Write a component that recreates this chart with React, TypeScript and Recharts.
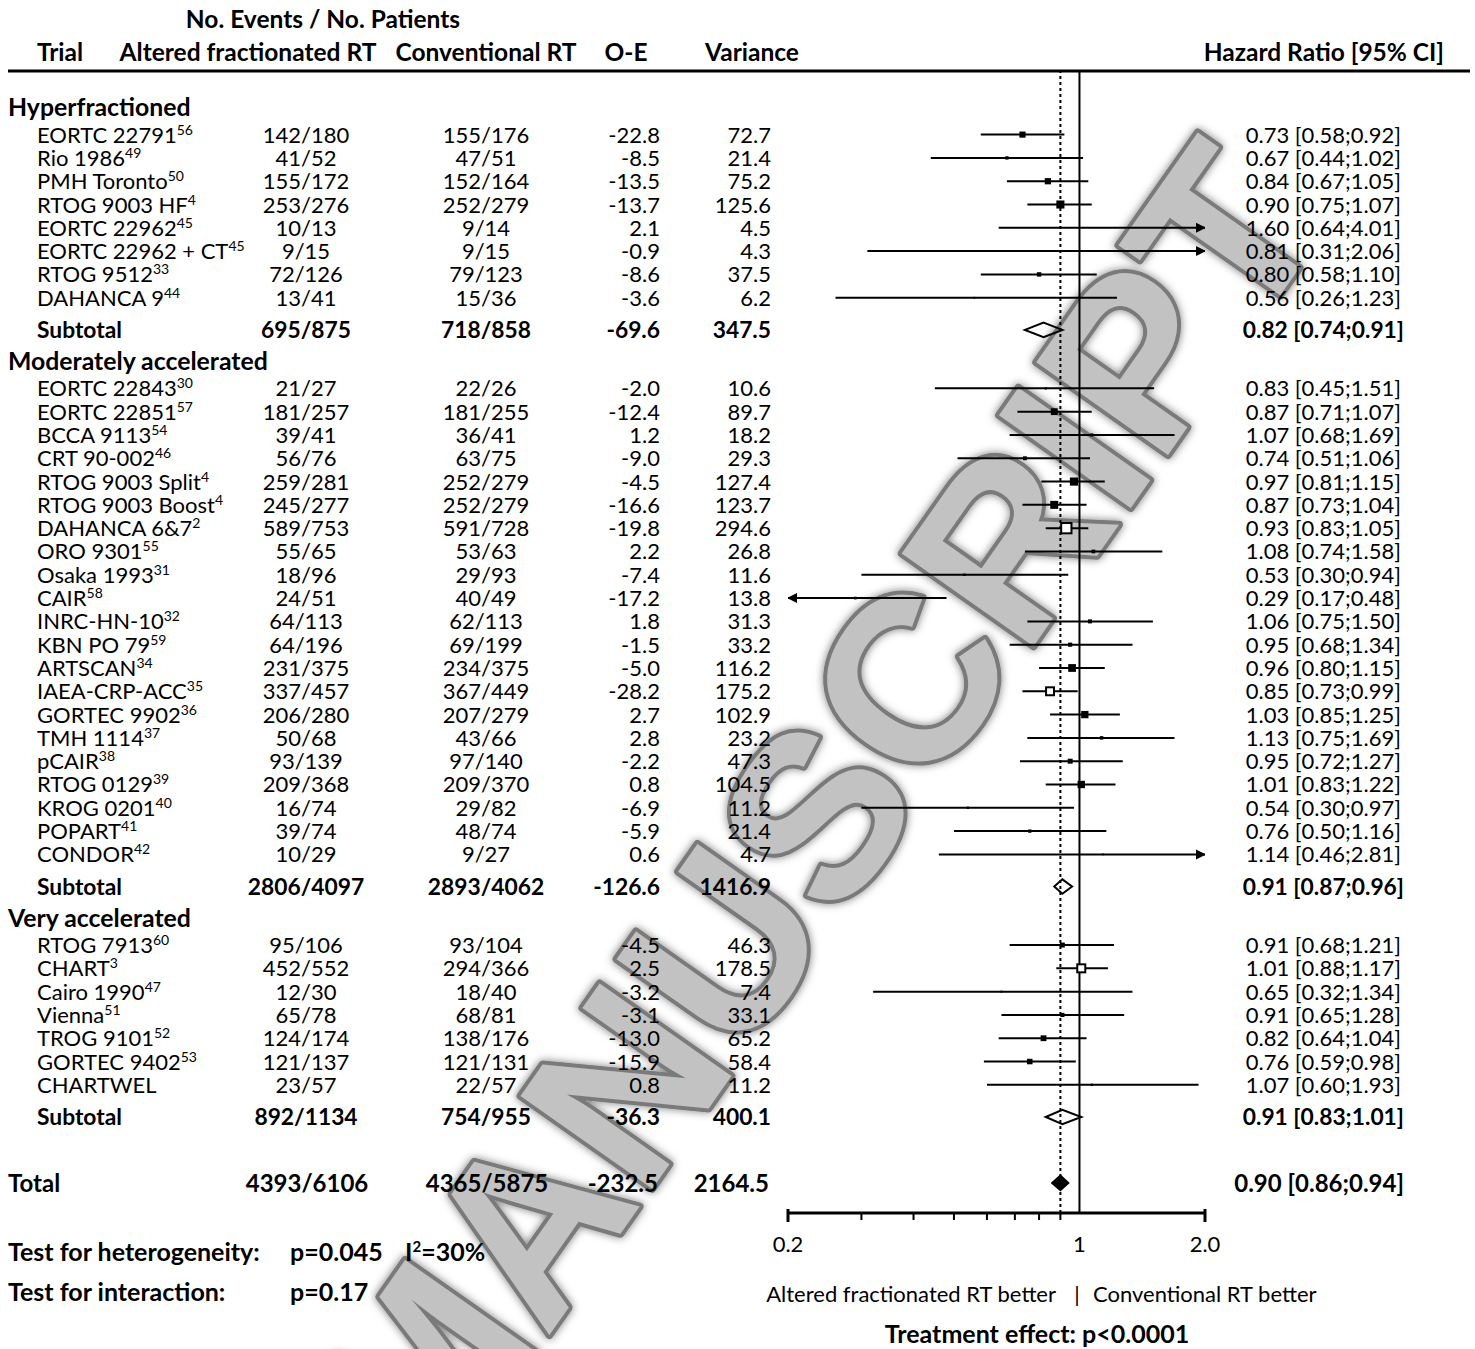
import React from 'react';
import { ScatterChart, Scatter, XAxis, YAxis, ReferenceLine, ErrorBar } from 'recharts';

const FONT = 'Lato, "Open Sans", sans-serif';

// ---- data ----
const sectionNames = ['Hyperfractioned', 'Moderately accelerated', 'Very accelerated'];
const sectionSizes = [8, 21, 7];

const trialNames = [
  'EORTC 22791', 'Rio 1986', 'PMH Toronto', 'RTOG 9003 HF', 'EORTC 22962', 'EORTC 22962 + CT', 'RTOG 9512', 'DAHANCA 9',
  'EORTC 22843', 'EORTC 22851', 'BCCA 9113', 'CRT 90-002', 'RTOG 9003 Split', 'RTOG 9003 Boost', 'DAHANCA 6&7',
  'ORO 9301', 'Osaka 1993', 'CAIR', 'INRC-HN-10', 'KBN PO 79', 'ARTSCAN', 'IAEA-CRP-ACC', 'GORTEC 9902', 'TMH 1114',
  'pCAIR', 'RTOG 0129', 'KROG 0201', 'POPART', 'CONDOR',
  'RTOG 7913', 'CHART', 'Cairo 1990', 'Vienna', 'TROG 9101', 'GORTEC 9402', 'CHARTWEL',
];
const trialRefs = [
  '56', '49', '50', '4', '45', '45', '33', '44',
  '30', '57', '54', '46', '4', '4', '2', '55', '31', '58', '32', '59', '34', '35', '36', '37', '38', '39', '40', '41', '42',
  '60', '3', '47', '51', '52', '53', '',
];
const alteredEvents = [
  '142/180', '41/52', '155/172', '253/276', '10/13', '9/15', '72/126', '13/41',
  '21/27', '181/257', '39/41', '56/76', '259/281', '245/277', '589/753', '55/65', '18/96', '24/51', '64/113', '64/196',
  '231/375', '337/457', '206/280', '50/68', '93/139', '209/368', '16/74', '39/74', '10/29',
  '95/106', '452/552', '12/30', '65/78', '124/174', '121/137', '23/57',
];
const conventionalEvents = [
  '155/176', '47/51', '152/164', '252/279', '9/14', '9/15', '79/123', '15/36',
  '22/26', '181/255', '36/41', '63/75', '252/279', '252/279', '591/728', '53/63', '29/93', '40/49', '62/113', '69/199',
  '234/375', '367/449', '207/279', '43/66', '97/140', '209/370', '29/82', '48/74', '9/27',
  '93/104', '294/366', '18/40', '68/81', '138/176', '121/131', '22/57',
];
const oeValues = [
  -22.8, -8.5, -13.5, -13.7, 2.1, -0.9, -8.6, -3.6,
  -2.0, -12.4, 1.2, -9.0, -4.5, -16.6, -19.8, 2.2, -7.4, -17.2, 1.8, -1.5, -5.0, -28.2, 2.7, 2.8, -2.2, 0.8, -6.9, -5.9, 0.6,
  -4.5, 2.5, -3.2, -3.1, -13.0, -15.9, 0.8,
];
const varianceValues = [
  72.7, 21.4, 75.2, 125.6, 4.5, 4.3, 37.5, 6.2,
  10.6, 89.7, 18.2, 29.3, 127.4, 123.7, 294.6, 26.8, 11.6, 13.8, 31.3, 33.2, 116.2, 175.2, 102.9, 23.2, 47.3, 104.5, 11.2, 21.4, 4.7,
  46.3, 178.5, 7.4, 33.1, 65.2, 58.4, 11.2,
];
const hrValues = [
  0.73, 0.67, 0.84, 0.90, 1.60, 0.81, 0.80, 0.56,
  0.83, 0.87, 1.07, 0.74, 0.97, 0.87, 0.93, 1.08, 0.53, 0.29, 1.06, 0.95, 0.96, 0.85, 1.03, 1.13, 0.95, 1.01, 0.54, 0.76, 1.14,
  0.91, 1.01, 0.65, 0.91, 0.82, 0.76, 1.07,
];
const ciLow = [
  0.58, 0.44, 0.67, 0.75, 0.64, 0.31, 0.58, 0.26,
  0.45, 0.71, 0.68, 0.51, 0.81, 0.73, 0.83, 0.74, 0.30, 0.17, 0.75, 0.68, 0.80, 0.73, 0.85, 0.75, 0.72, 0.83, 0.30, 0.50, 0.46,
  0.68, 0.88, 0.32, 0.65, 0.64, 0.59, 0.60,
];
const ciHigh = [
  0.92, 1.02, 1.05, 1.07, 4.01, 2.06, 1.10, 1.23,
  1.51, 1.07, 1.69, 1.06, 1.15, 1.04, 1.05, 1.58, 0.94, 0.48, 1.50, 1.34, 1.15, 0.99, 1.25, 1.69, 1.27, 1.22, 0.97, 1.16, 2.81,
  1.21, 1.17, 1.34, 1.28, 1.04, 0.98, 1.93,
];

const subtotalAltered = ['695/875', '2806/4097', '892/1134'];
const subtotalConventional = ['718/858', '2893/4062', '754/955'];
const subtotalOE = [-69.6, -126.6, -36.3];
const subtotalVariance = [347.5, 1416.9, 400.1];
const subtotalHR = [0.82, 0.91, 0.91];
const subtotalLow = [0.74, 0.87, 0.83];
const subtotalHigh = [0.91, 0.96, 1.01];

const totalAltered = '4393/6106';
const totalConventional = '4365/5875';
const totalOE = -232.5;
const totalVariance = 2164.5;
const totalHR = 0.90;
const totalLow = 0.86;
const totalHigh = 0.94;

const axisTicks = [0.2, 0.3, 0.4, 0.5, 0.6, 0.7, 0.8, 0.9, 1, 2];
const majorTicks = [0.2, 1, 2];
const majorTickLabels = ['0.2', '1', '2.0'];

const X_MIN = 0.2;
const X_MAX = 2;

// ---- row layout (in row units, top = 0) ----
const HEADER_START = 1.55;
const HEADER_GAP = 1.18;
const SUB_GAP = 1.38;
const SECTION_GAP = 1.33;
const TOTAL_GAP = 2.83;
const Y_MAX = 49.01;

type Row = { kind: string; y: number; i: number };
const rows: Row[] = [];
{
  let y = HEADER_START;
  let t = 0;
  sectionNames.forEach((_, s) => {
    rows.push({ kind: 'section', y, i: s });
    y += HEADER_GAP;
    for (let k = 0; k < sectionSizes[s]; k++) {
      rows.push({ kind: 'trial', y, i: t });
      t++;
      if (k < sectionSizes[s] - 1) y += 1;
    }
    y += SUB_GAP;
    rows.push({ kind: 'subtotal', y, i: s });
    if (s < sectionNames.length - 1) y += SECTION_GAP;
  });
  y += TOTAL_GAP;
  rows.push({ kind: 'total', y, i: 0 });
}

const fmt1 = (v: number) => v.toFixed(1);
const fmtHR = (h: number, l: number, u: number) => `${h.toFixed(2)} [${l.toFixed(2)};${u.toFixed(2)}]`;

const trialPoints = rows
  .filter((r) => r.kind === 'trial')
  .map((r) => {
    const i = r.i;
    const lo = Math.max(ciLow[i], X_MIN);
    const hi = Math.min(ciHigh[i], X_MAX);
    return { x: hrValues[i], y: r.y, v: varianceValues[i], err: [hrValues[i] - lo, hi - hrValues[i]] };
  });

const arrowPoints: { x: number; y: number; dir: string }[] = [];
rows
  .filter((r) => r.kind === 'trial')
  .forEach((r) => {
    if (ciHigh[r.i] > X_MAX) arrowPoints.push({ x: X_MAX, y: r.y, dir: 'right' });
    if (ciLow[r.i] < X_MIN) arrowPoints.push({ x: X_MIN, y: r.y, dir: 'left' });
  });

const DIAMOND_HALF = 0.31;
const diamondData = (y: number, h: number, l: number, u: number) => [
  { x: l, y },
  { x: h, y: y - DIAMOND_HALF },
  { x: u, y },
  { x: h, y: y + DIAMOND_HALF },
];
const diamonds = rows
  .filter((r) => r.kind === 'subtotal' || r.kind === 'total')
  .map((r) =>
    r.kind === 'total'
      ? { filled: true, data: diamondData(r.y, totalHR, totalLow, totalHigh) }
      : { filled: false, data: diamondData(r.y, subtotalHR[r.i], subtotalLow[r.i], subtotalHigh[r.i]) },
  );

// ---- column positions ----
const COL_SECTION = 8;
const COL_TRIAL = 37;
const COL_ALTERED = 306;
const COL_CONV = 486;
const COL_OE = 660;
const COL_VAR = 771;
const COL_HR = 1401;

const txt = (bold: boolean, size = 22) => ({
  fontFamily: FONT,
  fontSize: size,
  fontWeight: bold ? 700 : 400,
  fill: '#000',
});

const RowTick = (props: any) => {
  const { y, payload } = props;
  const row = rows.find((r) => Math.abs(r.y - payload.value) < 1e-6);
  if (!row) return null;
  const b = y + 8;
  if (row.kind === 'section') {
    return (
      <text x={COL_SECTION} y={b + 1} {...txt(true, 24.8)}>
        {sectionNames[row.i]}
      </text>
    );
  }
  if (row.kind === 'trial') {
    const i = row.i;
    return (
      <g>
        <text x={COL_TRIAL} y={b} {...txt(false)}>
          {trialNames[i]}
          {trialRefs[i] && (
            <tspan dy={-8} fontSize={14}>
              {trialRefs[i]}
            </tspan>
          )}
        </text>
        <text x={COL_ALTERED} y={b} textAnchor="middle" {...txt(false)}>{alteredEvents[i]}</text>
        <text x={COL_CONV} y={b} textAnchor="middle" {...txt(false)}>{conventionalEvents[i]}</text>
        <text x={COL_OE} y={b} textAnchor="end" {...txt(false)}>{fmt1(oeValues[i])}</text>
        <text x={COL_VAR} y={b} textAnchor="end" {...txt(false)}>{fmt1(varianceValues[i])}</text>
        <text x={COL_HR} y={b} textAnchor="end" {...txt(false)}>{fmtHR(hrValues[i], ciLow[i], ciHigh[i])}</text>
      </g>
    );
  }
  if (row.kind === 'subtotal') {
    const s = row.i;
    return (
      <g>
        <text x={COL_TRIAL} y={b} {...txt(true, 22.8)}>Subtotal</text>
        <text x={COL_ALTERED} y={b} textAnchor="middle" {...txt(true, 22.8)}>{subtotalAltered[s]}</text>
        <text x={COL_CONV} y={b} textAnchor="middle" {...txt(true, 22.8)}>{subtotalConventional[s]}</text>
        <text x={COL_OE} y={b} textAnchor="end" {...txt(true, 22.8)}>{fmt1(subtotalOE[s])}</text>
        <text x={COL_VAR} y={b} textAnchor="end" {...txt(true, 22.8)}>{fmt1(subtotalVariance[s])}</text>
        <text x={COL_HR + 3} y={b} textAnchor="end" {...txt(true, 22.8)}>{fmtHR(subtotalHR[s], subtotalLow[s], subtotalHigh[s])}</text>
      </g>
    );
  }
  return (
    <g>
      <text x={COL_SECTION} y={b + 1} {...txt(true, 24)}>Total</text>
      <text x={COL_ALTERED + 1} y={b + 1} textAnchor="middle" {...txt(true, 24)}>{totalAltered}</text>
      <text x={COL_CONV + 1} y={b + 1} textAnchor="middle" {...txt(true, 24)}>{totalConventional}</text>
      <text x={COL_OE - 2} y={b + 1} textAnchor="end" {...txt(true, 24)}>{fmt1(totalOE)}</text>
      <text x={COL_VAR - 2} y={b + 1} textAnchor="end" {...txt(true, 24)}>{fmt1(totalVariance)}</text>
      <text x={COL_HR + 3} y={b + 1} textAnchor="end" {...txt(true, 24)}>{fmtHR(totalHR, totalLow, totalHigh)}</text>
    </g>
  );
};

const AxisTick = (props: any) => {
  const { x, y, payload } = props;
  const v = payload.value;
  const mi = majorTicks.indexOf(v);
  const isEnd = v === X_MIN || v === X_MAX;
  const showLine = v !== 1;
  return (
    <g>
      {showLine && (
        <line
          x1={x}
          x2={x}
          y1={isEnd ? y - 4 : y}
          y2={isEnd ? y + 9 : y + 7}
          stroke="#000"
          strokeWidth={isEnd ? 3 : 2}
        />
      )}
      {mi >= 0 && (
        <text x={x} y={y + 39} textAnchor="middle" {...txt(false)}>
          {majorTickLabels[mi]}
        </text>
      )}
    </g>
  );
};

// square area follows the variance; the biggest trials are drawn open
const TrialSquare = (props: any) => {
  const { cx, cy, payload } = props;
  const hollow = payload.v > 150;
  const side = hollow ? 0.6 * Math.sqrt(payload.v) : Math.max(1.8, 0.72 * Math.sqrt(payload.v));
  return (
    <rect
      x={cx - side / 2}
      y={cy - side / 2}
      width={side}
      height={side}
      fill={hollow ? '#fff' : '#000'}
      stroke="#000"
      strokeWidth={hollow ? 2 : 0}
    />
  );
};

const Arrow = (props: any) => {
  const { cx, cy, payload } = props;
  const d = payload.dir === 'right' ? 1 : -1;
  const tip = cx + d * 1;
  return <polygon points={`${tip},${cy} ${tip - d * 10},${cy - 5} ${tip - d * 10},${cy + 5}`} fill="#000" />;
};

const diamondLine = (filled: boolean) => (p: any) => {
  const pts = (p.points || []).map((q: any) => `${q.x},${q.y}`).join(' ');
  return <polygon points={pts} fill={filled ? '#000' : 'none'} stroke="#000" strokeWidth={2} strokeLinejoin="miter" />;
};

const Empty = () => <g />;

const Watermark = () => (
  <svg width={1475} height={1349} style={{ position: 'absolute', left: 0, top: 0 }}>
    <defs>
      <filter id="wmShadow" x="-10%" y="-10%" width="120%" height="120%">
        <feDropShadow dx="0" dy="0" stdDeviation="4" floodColor="#000" floodOpacity="0.5" />
      </filter>
      <path id="wmPath" d="M330,1647 L1331,223" fill="none" />
    </defs>
    <text
      fontFamily='"Liberation Sans", Arial, sans-serif'
      fontSize={234}
      fontWeight={700}
      fill="#c2c2c2"
      stroke="#7a7a7a"
      strokeWidth={8}
      strokeLinejoin="round"
      paintOrder="stroke"
      filter="url(#wmShadow)"
    >
      <textPath href="#wmPath" startOffset="100%" textAnchor="end">
        MANUSCRIPT
      </textPath>
    </text>
  </svg>
);

const Overlay = () => (
  <svg width={1475} height={1349} style={{ position: 'absolute', left: 0, top: 0, pointerEvents: 'none' }}>
    <text x={323} y={28} textAnchor="middle" {...txt(true, 24.5)}>No. Events / No. Patients</text>
    <text x={37} y={61} {...txt(true, 24.5)}>Trial</text>
    <text x={248} y={61} textAnchor="middle" {...txt(true, 24.5)}>Altered fractionated RT</text>
    <text x={486} y={61} textAnchor="middle" {...txt(true, 24.5)}>Conventional RT</text>
    <text x={626} y={61} textAnchor="middle" {...txt(true, 24.5)}>O-E</text>
    <text x={752} y={61} textAnchor="middle" {...txt(true, 24.5)}>Variance</text>
    <text x={1444} y={61} textAnchor="end" {...txt(true, 24.5)}>Hazard Ratio [95% CI]</text>
    <line x1={8} x2={1470} y1={71} y2={71} stroke="#000" strokeWidth={3} />

    <text x={8} y={1261} {...txt(true, 25)}>Test for heterogeneity:</text>
    <text x={290} y={1261} {...txt(true, 25)}>p=0.045</text>
    <text x={405} y={1261} {...txt(true, 25)}>
      I<tspan dy={-9} fontSize={15}>2</tspan>
      <tspan dy={9}>=30%</tspan>
    </text>
    <text x={8} y={1301} {...txt(true, 25)}>Test for interaction:</text>
    <text x={290} y={1301} {...txt(true, 25)}>p=0.17</text>

    <text x={1056} y={1302} textAnchor="end" {...txt(false)}>Altered fractionated RT better</text>
    <text x={1077} y={1302} textAnchor="middle" {...txt(false)}>|</text>
    <text x={1093} y={1302} {...txt(false)}>Conventional RT better</text>
    <text x={1037} y={1343} textAnchor="middle" {...txt(true, 25)}>Treatment effect: p&lt;0.0001</text>
  </svg>
);

export default function App() {
  return (
    <div style={{ position: 'absolute', left: 0, top: 0, width: 1475, height: 1349, background: '#fff', overflow: 'hidden' }}>
      <Watermark />
      <div style={{ position: 'absolute', left: 0, top: 0 }}>
        <ScatterChart width={1475} height={1349} margin={{ top: 71, right: 270, bottom: 0, left: 0 }}>
          <XAxis
            type="number"
            dataKey="x"
            scale="log"
            domain={[X_MIN, X_MAX]}
            allowDataOverflow
            ticks={axisTicks}
            interval={0}
            tick={AxisTick}
            tickLine={false}
            tickSize={0}
            tickMargin={0}
            axisLine={{ stroke: '#000', strokeWidth: 3 }}
            height={136}
          />
          <YAxis
            type="number"
            dataKey="y"
            domain={[0, Y_MAX]}
            allowDataOverflow
            reversed
            ticks={rows.map((r) => r.y)}
            interval={0}
            tick={RowTick}
            tickLine={false}
            axisLine={false}
            width={788}
          />
          <ReferenceLine x={1} stroke="#000" strokeWidth={2} />
          <ReferenceLine x={totalHR} stroke="#000" strokeWidth={2} strokeDasharray="3 3" />
          <Scatter data={trialPoints} shape={TrialSquare} isAnimationActive={false}>
            <ErrorBar dataKey="err" direction="x" width={0} stroke="#000" strokeWidth={2} isAnimationActive={false} />
          </Scatter>
          <Scatter data={arrowPoints} shape={Arrow} isAnimationActive={false} />
          {diamonds.map((d, k) => (
            <Scatter
              key={`diamond-${k}`}
              data={d.data}
              shape={Empty}
              line={diamondLine(d.filled)}
              lineType="joint"
              isAnimationActive={false}
            />
          ))}
        </ScatterChart>
      </div>
      <Overlay />
    </div>
  );
}
